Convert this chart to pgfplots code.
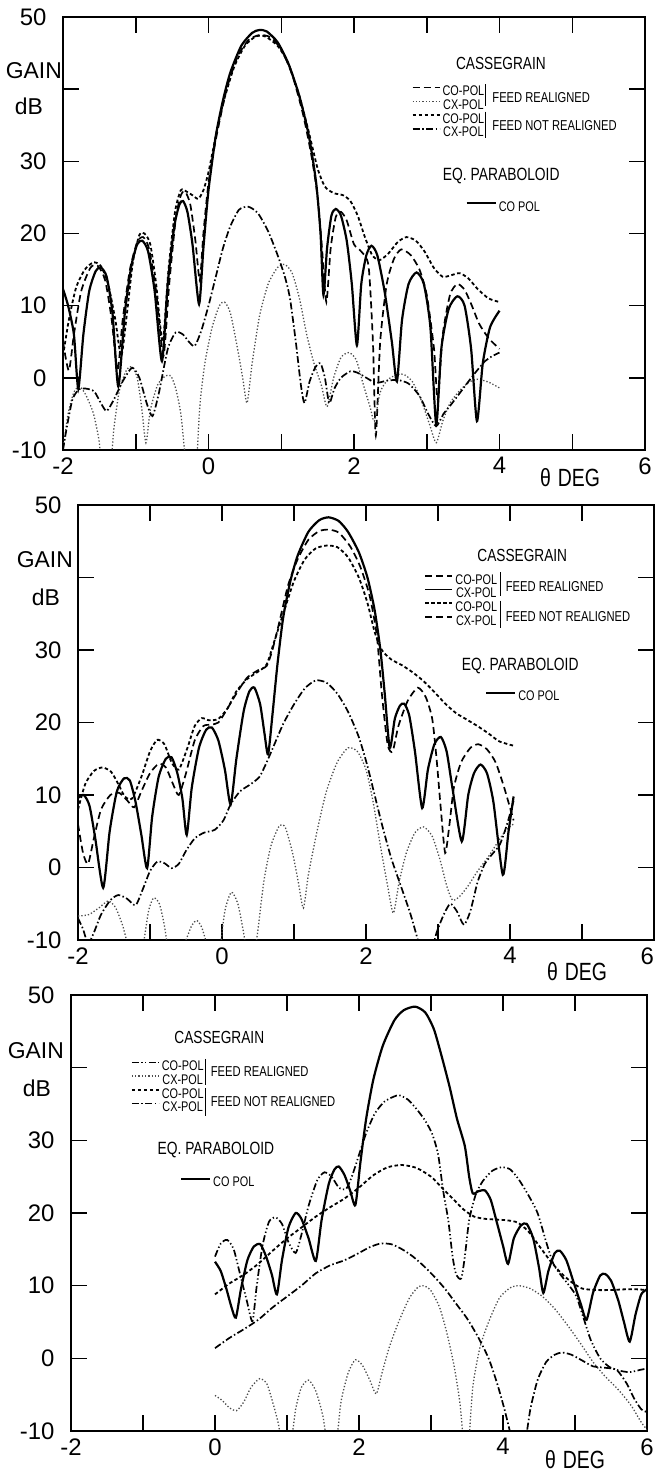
\documentclass[border=0pt]{standalone}
\usepackage{pgfplots}
\pgfplotsset{compat=1.18}
\usepackage{fontspec}
\setmainfont{Liberation Sans}
\newfontfamily\cond{Liberation Sans}[FakeStretch=0.78]
\newcommand\legfont{\cond\fontsize{14}{14}\selectfont}

\pgfplotsset{
  sA/.style={black, line width=2.2bp, solid, smooth, tension=0.4},
  sB/.style={black, line width=1.7bp, dash pattern=on 7bp off 4bp, smooth, tension=0.4},
  sBdd/.style={black, line width=1.7bp, dash pattern=on 7bp off 2.5bp on 1.3bp off 2.5bp on 1.3bp off 2.5bp, smooth, tension=0.4},
  sC/.style={black!70, line width=1.3bp, dash pattern=on 1.3bp off 2bp, smooth, tension=0.4},
  sD/.style={black, line width=1.8bp, dash pattern=on 3.5bp off 2.5bp, smooth, tension=0.4},
  sE/.style={black, line width=1.7bp, dash pattern=on 7bp off 2.5bp on 1.5bp off 2.5bp, smooth, tension=0.4},
  panel/.style={
    scale only axis, anchor=south west,
    xmin=-2, xmax=6, ymin=-10, ymax=50,
    xtick={-2,-1,0,1,2,3,4,5,6},
    ytick={-10,0,10,20,30,40,50}, yticklabels={-10,0,10,20,30,,50},
    tick align=inside, major tick length=16bp,
    axis line style={line width=1.5bp},
    every tick/.style={black, line width=1.5bp},
    ticklabel style={font=\fontsize{24}{24}\selectfont},
    yticklabel style={xshift=-13bp},
    xticklabel style={yshift=-4bp},
    clip mode=individual,
  },
  legax/.style={hide axis, scale only axis, anchor=south west, xmin=-2, xmax=6, ymin=-10, ymax=50,
    legend image code/.code={\draw[##1] (0bp,3.5bp) -- (#1,3.5bp);},
    legend style={draw=none, fill=none, inner sep=0pt, row sep=3bp, column sep=1.5bp,
      font=\legfont, nodes={font=\legfont, inner sep=0.6bp, text height=9.5bp, text depth=0bp},
      anchor=north west}},
}

\begin{document}
\begin{tikzpicture}
\path[use as bounding box] (0bp,0bp) rectangle (655bp,1473bp);

% ================= PANEL 1 =================
\begin{axis}[panel, at={(63bp,1023bp)}, width=582bp, height=433bp,
  xticklabels={-2,,0,,2,,4,,6}]
\addplot[sB] coordinates {(-2,5) (-1.92,1) (-1.85,6) (-1.75,12) (-1.62,15.3) (-1.52,15.5) (-1.42,13.5) (-1.33,8) (-1.25,1) (-1.18,8) (-1.08,15) (-0.98,18.8) (-0.9,19.5) (-0.82,18) (-0.72,12) (-0.62,3) (-0.54,13) (-0.45,22) (-0.38,25.3) (-0.32,25.8) (-0.25,24) (-0.18,19) (-0.12,13.5) (-0.07,20) (0,27) (0.1,33) (0.25,40) (0.4,44.5) (0.55,46.8) (0.7,47.5) (0.85,47.2) (1.0,45.5) (1.15,42) (1.3,36.5) (1.42,30.5) (1.5,25) (1.56,18) (1.62,10.5) (1.68,18) (1.75,22.3) (1.82,23) (1.9,21.8) (2.0,18.5) (2.1,17.5) (2.2,15.5) (2.26,5) (2.3,-8) (2.36,5) (2.45,13) (2.55,16.5) (2.65,17.8) (2.78,17) (2.9,15) (3.0,11.5) (3.1,4) (3.15,-3) (3.22,6) (3.32,11.5) (3.42,13) (3.52,12.2) (3.62,10) (3.72,7.5) (3.85,5.5) (4.0,4)};
\addplot[sC] coordinates {(-2,-10) (-1.93,-5) (-1.85,-2) (-1.77,-1.2) (-1.68,-2.5) (-1.58,-5) (-1.5,-9) (-1.46,-14) (-1.36,-14) (-1.3,-7) (-1.22,-1.5) (-1.12,1.2) (-1.05,1.5) (-0.98,0) (-0.92,-4) (-0.86,-9) (-0.8,-4.5) (-0.7,-1) (-0.6,0.2) (-0.52,0.3) (-0.45,-1.5) (-0.38,-5) (-0.32,-11) (-0.28,-14) (-0.18,-14) (-0.12,-4) (-0.05,2) (0.05,7) (0.15,10) (0.22,10.5) (0.3,9) (0.4,4) (0.47,0) (0.53,-3.5) (0.6,2) (0.7,8.5) (0.82,13) (0.95,15.3) (1.05,15.7) (1.15,14.5) (1.25,11) (1.35,6) (1.45,2) (1.55,-1) (1.63,-4) (1.72,0) (1.82,2.8) (1.93,3.5) (2.03,2.5) (2.13,-1) (2.22,-4) (2.28,-6) (2.36,-2) (2.46,-0.3) (2.58,0.4) (2.68,0.5) (2.8,-0.5) (2.92,-3) (3.04,-6.5) (3.13,-9) (3.22,-6) (3.32,-3.5) (3.45,-1.8) (3.58,-0.6) (3.7,-0.2) (3.85,-0.6) (4.0,-1.4)};
\addplot[sD] coordinates {(-2,3) (-1.92,8) (-1.82,12.5) (-1.7,15) (-1.58,16) (-1.48,15.5) (-1.38,13) (-1.28,8) (-1.2,3) (-1.12,9) (-1.04,16) (-0.95,19.8) (-0.88,20) (-0.8,18.5) (-0.72,13) (-0.63,5) (-0.55,15) (-0.46,23) (-0.38,26) (-0.3,25.8) (-0.22,25.3) (-0.14,24.8) (-0.07,26) (0,28.5) (0.1,33.5) (0.2,38) (0.35,43) (0.5,46) (0.65,47.3) (0.78,47.3) (0.95,46) (1.1,43.5) (1.25,39) (1.38,34) (1.5,29) (1.6,26.5) (1.72,25.6) (1.85,25.3) (1.95,24.5) (2.05,22.5) (2.15,19.5) (2.25,17) (2.35,16.3) (2.47,17.2) (2.6,18.8) (2.72,19.5) (2.85,19) (2.97,17.5) (3.1,15.2) (3.22,14) (3.33,14.2) (3.45,14.5) (3.57,13.8) (3.7,12.3) (3.85,11) (4.0,10.5)};
\addplot[sE] coordinates {(-2,-10) (-1.95,-7) (-1.87,-3) (-1.78,-1.6) (-1.68,-1.5) (-1.57,-1.9) (-1.48,-3.5) (-1.4,-4.6) (-1.3,-3) (-1.18,-0.5) (-1.05,1.4) (-0.95,0) (-0.85,-3.5) (-0.77,-5.3) (-0.68,-2) (-0.56,4) (-0.45,6.3) (-0.35,6) (-0.27,5) (-0.19,4.4) (-0.1,6.5) (0,10) (0.1,14) (0.2,18) (0.3,21) (0.42,23.3) (0.55,23.7) (0.68,22.8) (0.82,20.3) (0.95,17) (1.05,14) (1.12,11) (1.2,5) (1.27,-1) (1.32,-3.5) (1.39,-0.5) (1.47,1.5) (1.54,2) (1.6,0) (1.66,-3.5) (1.73,-1.5) (1.82,0) (1.95,0.9) (2.05,0.7) (2.17,0) (2.3,-0.7) (2.45,-0.4) (2.6,-0.3) (2.75,-0.8) (2.9,-2.5) (3.02,-5) (3.13,-6.7) (3.23,-5) (3.35,-3.5) (3.5,-1.5) (3.65,0.5) (3.8,2.3) (3.9,3) (4.0,3.5)};
\addplot[sA] coordinates {(-2,12.3) (-1.93,10) (-1.85,6) (-1.79,-1.5) (-1.72,6) (-1.64,12) (-1.55,14.8) (-1.48,15.3) (-1.40,14) (-1.32,9) (-1.24,-1.2) (-1.15,9) (-1.06,15.5) (-0.98,18.5) (-0.91,19) (-0.83,17.5) (-0.74,12) (-0.64,2.3) (-0.56,13) (-0.47,21) (-0.40,24) (-0.35,24.5) (-0.29,23) (-0.22,18.5) (-0.13,10.2) (-0.07,18) (0,26) (0.1,33.5) (0.2,38.5) (0.3,42.3) (0.45,46) (0.6,47.8) (0.7,48.2) (0.8,48) (0.95,46.5) (1.1,43.5) (1.25,39) (1.38,33.5) (1.48,27) (1.54,20) (1.58,11.5) (1.63,18) (1.69,22.5) (1.75,23.4) (1.82,22.5) (1.9,19) (1.97,13) (2.04,4.5) (2.1,13) (2.17,17) (2.24,18.3) (2.32,17) (2.42,12) (2.52,5) (2.59,-0.5) (2.66,8) (2.75,13) (2.86,14.6) (2.96,13) (3.05,7) (3.13,-6.5) (3.2,4) (3.3,9.5) (3.42,11.3) (3.52,10) (3.61,4) (3.69,-6) (3.77,2) (3.87,7) (4.0,9.3)};
\draw[line width=0.9bp] (axis cs:3.81,40.7) -- (axis cs:3.81,37.6);
\draw[line width=0.9bp] (axis cs:3.81,36.9) -- (axis cs:3.81,33.2);
\node[anchor=west, inner sep=0pt, font=\cond\fontsize{14.4}{14.4}\selectfont] at (axis cs:3.9,38.8) {FEED REALIGNED};
\node[anchor=west, inner sep=0pt, font=\cond\fontsize{14.4}{14.4}\selectfont] at (axis cs:3.9,34.9) {FEED NOT REALIGNED};
\node[inner sep=0pt, font=\cond\fontsize{17.6}{17.6}\selectfont] at (axis cs:4.02,43.5) {CASSEGRAIN};
\node[anchor=west, inner sep=0pt, font=\cond\fontsize{17.8}{17.8}\selectfont] at (axis cs:3.22,28) {EQ. PARABOLOID};
\node[anchor=east, inner sep=1bp, font=\fontsize{23}{23}\selectfont] at (axis cs:-2,42.6) {GAIN};
\node[anchor=east, inner sep=0pt, xshift=-20bp, font=\fontsize{23}{23}\selectfont] at (axis cs:-2,37.6) {dB};
\node[yshift=-28bp, inner sep=0pt, font=\cond\fontsize{25}{25}\selectfont] at (axis cs:4.97,-10) {θ\hspace{7bp}DEG};
\end{axis}
\begin{axis}[legax=27bp, at={(63bp,1023bp)}, width=582bp, height=433bp, legend style={at={(axis cs:2.79,40.5)}}]
\addlegendimage{sB}\addlegendentry{CO-POL}
\addlegendimage{sC}\addlegendentry{CX-POL}
\addlegendimage{sD}\addlegendentry{CO-POL}
\addlegendimage{sE}\addlegendentry{CX-POL}
\end{axis}
\begin{axis}[legax=29bp, at={(63bp,1023bp)}, width=582bp, height=433bp, legend style={at={(axis cs:3.53,24.5)}}]
\addlegendimage{sA}\addlegendentry{CO POL}
\end{axis}

% ================= PANEL 2 =================
\begin{axis}[panel, at={(78bp,533bp)}, width=576bp, height=435bp,
  xticklabels={-2,,0,,2,,4,,\makebox[0pt][r]{6}}]
\addplot[sB] coordinates {(-2,6) (-1.93,2) (-1.86,0.5) (-1.78,4) (-1.68,8) (-1.55,10) (-1.43,10.3) (-1.32,9.3) (-1.22,8.3) (-1.12,10.5) (-1.0,13) (-0.88,14.3) (-0.78,13.8) (-0.68,11.5) (-0.6,10) (-0.5,13) (-0.38,17.5) (-0.26,19.5) (-0.15,19.7) (-0.05,20) (0.05,21.5) (0.2,24) (0.35,26.2) (0.5,27.2) (0.62,27.8) (0.7,30) (0.8,34) (0.92,39) (1.05,42.5) (1.2,45.2) (1.35,46.4) (1.48,46.6) (1.62,46.2) (1.78,44.3) (1.92,41.5) (2.05,37.5) (2.15,32) (2.22,24) (2.3,17) (2.37,16) (2.45,19.5) (2.58,23) (2.72,24.8) (2.83,23.5) (2.92,20.5) (2.98,15) (3.04,8) (3.1,2) (3.16,6) (3.22,11) (3.32,14.5) (3.45,16.5) (3.56,17) (3.68,16.3) (3.8,14.5) (3.92,11) (4.05,6.5)};
\addplot[sC] coordinates {(-2,-6.7) (-1.85,-6.5) (-1.7,-5.5) (-1.58,-4.6) (-1.48,-5.5) (-1.38,-8) (-1.3,-11) (-1.2,-14) (-1.1,-11) (-1.02,-6) (-0.95,-4.2) (-0.87,-5) (-0.8,-8) (-0.72,-13) (-0.62,-13) (-0.5,-10) (-0.42,-8) (-0.35,-7.3) (-0.28,-8.3) (-0.2,-11) (-0.12,-14) (-0.04,-12) (0.04,-6) (0.13,-3.4) (0.22,-5) (0.3,-9) (0.38,-14) (0.48,-10) (0.58,-2) (0.68,3) (0.8,5.8) (0.88,5.5) (0.98,2) (1.06,-2) (1.13,-5.6) (1.2,-1) (1.32,5) (1.45,10.5) (1.6,14.5) (1.75,16.5) (1.88,16) (2.0,13.5) (2.1,9) (2.2,3) (2.3,-2.5) (2.38,-6.3) (2.46,-2) (2.56,2) (2.68,4.8) (2.8,5.6) (2.92,4.3) (3.03,1) (3.12,-2.5) (3.2,-4.5) (3.3,-4) (3.42,-2.5) (3.55,-0.5) (3.7,1.5) (3.85,3.8) (3.95,5.2) (4.05,6)};
\addplot[sD] coordinates {(-2,8) (-1.9,11.5) (-1.78,13.3) (-1.66,13.8) (-1.54,13.2) (-1.44,11.5) (-1.35,9.8) (-1.25,9.5) (-1.12,12.5) (-1.0,16) (-0.9,17.6) (-0.8,17) (-0.7,14.5) (-0.6,13.5) (-0.48,16.5) (-0.38,19.5) (-0.28,20.6) (-0.18,20.3) (-0.05,20.5) (0.08,22) (0.2,24.3) (0.35,26) (0.5,27) (0.62,28) (0.72,31) (0.85,35) (1.0,39.5) (1.15,42.5) (1.3,44) (1.45,44.4) (1.6,44.2) (1.75,42.8) (1.9,40) (2.02,36.5) (2.12,32.5) (2.22,30) (2.35,28.7) (2.5,27.9) (2.65,26.9) (2.8,25.7) (2.95,24.2) (3.1,22.6) (3.25,21.3) (3.4,20.4) (3.55,19.5) (3.7,18.5) (3.85,17.4) (4.05,16.8)};
\addplot[sE] coordinates {(-2,-7) (-1.93,-8.5) (-1.86,-10.5) (-1.78,-9) (-1.68,-6.5) (-1.55,-4.5) (-1.44,-3.8) (-1.32,-4.3) (-1.2,-5.2) (-1.1,-3) (-1.0,-0.5) (-0.9,0.8) (-0.8,0.6) (-0.7,-0.1) (-0.6,0.5) (-0.5,2.3) (-0.38,4) (-0.25,4.8) (-0.1,5.2) (0.02,6.5) (0.12,8.7) (0.25,10.5) (0.4,11.5) (0.52,12.5) (0.62,14.5) (0.72,16.8) (0.85,19.8) (1.0,22.5) (1.15,24.7) (1.3,25.8) (1.45,25.5) (1.6,24) (1.75,21.5) (1.9,18) (2.02,14) (2.12,10) (2.22,6) (2.35,1.3) (2.5,-3) (2.62,-6.5) (2.72,-10) (2.8,-13) (2.9,-12) (2.98,-9) (3.08,-6.5) (3.17,-5) (3.26,-6) (3.36,-7.9) (3.45,-6) (3.55,-2) (3.65,0.5) (3.75,1.8) (3.86,3.2) (3.96,6) (4.05,9.2)};
\addplot[sA] coordinates {(-2,9.6) (-1.92,10) (-1.84,8.5) (-1.76,4) (-1.65,-2.8) (-1.56,5) (-1.46,10.5) (-1.36,12.3) (-1.28,12) (-1.2,9) (-1.12,4.5) (-1.04,-0.1) (-0.97,7) (-0.88,12.5) (-0.78,15) (-0.7,15.2) (-0.62,13) (-0.55,9.5) (-0.49,4.5) (-0.42,11) (-0.32,16.5) (-0.22,19) (-0.14,19.3) (-0.05,17.5) (0.04,13.5) (0.12,8.7) (0.2,15) (0.3,21.5) (0.38,24.3) (0.45,24.8) (0.53,22.5) (0.59,18.5) (0.64,15.6) (0.7,21) (0.77,28) (0.85,34.5) (0.95,39.5) (1.05,43) (1.2,46.3) (1.35,47.9) (1.48,48.3) (1.62,47.8) (1.75,46.3) (1.9,43.5) (2.02,40) (2.12,35.5) (2.2,30) (2.26,24) (2.33,16.5) (2.4,20.5) (2.47,22.3) (2.53,22.6) (2.6,21) (2.68,16) (2.78,8.2) (2.86,13.5) (2.95,17) (3.04,18) (3.12,16) (3.2,11) (3.33,3.6) (3.42,10) (3.5,13) (3.59,14.2) (3.68,13) (3.77,9) (3.9,-1) (3.98,5) (4.05,9.8)};
\draw[line width=0.9bp] (axis cs:3.87,40.7) -- (axis cs:3.87,37.4);
\draw[line width=0.9bp] (axis cs:3.87,36.8) -- (axis cs:3.87,33.0);
\node[anchor=west, inner sep=0pt, font=\cond\fontsize{14.4}{14.4}\selectfont] at (axis cs:3.94,38.7) {FEED REALIGNED};
\node[anchor=west, inner sep=0pt, font=\cond\fontsize{14.4}{14.4}\selectfont] at (axis cs:3.94,34.6) {FEED NOT REALIGNED};
\node[inner sep=0pt, font=\cond\fontsize{17.6}{17.6}\selectfont] at (axis cs:4.17,43.1) {CASSEGRAIN};
\node[anchor=west, inner sep=0pt, font=\cond\fontsize{17.8}{17.8}\selectfont] at (axis cs:3.33,27.8) {EQ. PARABOLOID};
\node[anchor=east, inner sep=0pt, xshift=-5bp, font=\fontsize{23}{23}\selectfont] at (axis cs:-2,42.4) {GAIN};
\node[anchor=east, inner sep=0pt, xshift=-18bp, font=\fontsize{23}{23}\selectfont] at (axis cs:-2,37.3) {dB};
\node[yshift=-32bp, inner sep=0pt, font=\cond\fontsize{25}{25}\selectfont] at (axis cs:4.93,-10) {θ\hspace{7bp}DEG};
\end{axis}
\begin{axis}[legax=27bp, at={(78bp,533bp)}, width=576bp, height=435bp, legend style={at={(axis cs:2.81,40.5)}}]
\addlegendimage{sB}\addlegendentry{CO-POL}
\addlegendimage{draw=none}\addlegendentry{CX-POL}
\addlegendimage{sD}\addlegendentry{CO-POL}
\addlegendimage{sB}\addlegendentry{CX-POL}
\end{axis}
\begin{axis}[legax=29bp, at={(78bp,533bp)}, width=576bp, height=435bp, legend style={at={(axis cs:3.65,24.4)}}]
\addlegendimage{sA}\addlegendentry{CO POL}
\end{axis}

% ================= PANEL 3 =================
\begin{axis}[panel, at={(71bp,42bp)}, width=576bp, height=436bp,
  xticklabels={-2,,0,,2,,4,,6}]
\addplot[sBdd] coordinates {(0,14) (0.08,15.8) (0.17,16.3) (0.26,15) (0.35,11.5) (0.44,8) (0.52,5.1) (0.58,10) (0.66,15.5) (0.75,18.8) (0.84,19.4) (0.93,18.5) (1.02,16) (1.12,14.5) (1.2,17) (1.3,21) (1.42,24.5) (1.52,25.6) (1.62,25) (1.72,23.5) (1.82,23.3) (1.9,25) (2.0,28) (2.1,31) (2.22,33.7) (2.35,35.3) (2.48,36) (2.56,36.2) (2.68,35.6) (2.8,34.3) (2.92,32.7) (3.02,30.8) (3.1,28) (3.17,23) (3.24,19) (3.3,14) (3.35,11.5) (3.42,11) (3.47,14) (3.53,19) (3.62,22.5) (3.72,24.4) (3.85,25.8) (3.98,26.3) (4.1,26) (4.22,24.6) (4.35,22.5) (4.48,20) (4.6,16) (4.7,13) (4.8,11.5) (4.92,10) (5.02,8.5) (5.12,5.5) (5.22,2.5) (5.35,0) (5.48,-1.2) (5.62,-1.7) (5.76,-1.9) (5.9,-1.6) (6.0,-1.4)};
\addplot[sC] coordinates {(0,-5.1) (0.1,-5.8) (0.2,-6.8) (0.3,-7.2) (0.4,-6) (0.5,-4) (0.62,-2.8) (0.72,-3.5) (0.8,-6) (0.88,-9) (0.95,-13) (1.05,-12) (1.12,-7) (1.2,-4) (1.3,-3) (1.4,-4.5) (1.5,-8) (1.58,-13) (1.68,-12) (1.75,-6) (1.85,-2) (1.95,-0.2) (2.05,-1) (2.15,-3) (2.24,-4.9) (2.32,-2) (2.42,1.5) (2.55,5) (2.7,8.3) (2.82,9.8) (2.9,10) (3.0,9.3) (3.12,7) (3.22,3.5) (3.32,-1) (3.4,-6) (3.46,-12) (3.52,-12) (3.58,-4) (3.68,1.5) (3.8,5) (3.95,8.3) (4.1,9.7) (4.22,10) (4.38,9.6) (4.55,8.5) (4.72,6.8) (4.9,4.5) (5.08,2) (5.25,-0.5) (5.42,-2.5) (5.6,-4.3) (5.78,-6.5) (5.92,-8.8) (6.0,-9.8)};
\addplot[sD] coordinates {(0,8.8) (0.2,10.3) (0.4,11.5) (0.6,13) (0.8,14.8) (1.0,16.5) (1.2,18) (1.4,19.5) (1.6,20.8) (1.8,22) (2.0,23.5) (2.2,25.2) (2.4,26.3) (2.6,26.6) (2.8,26.2) (3.0,25) (3.15,23.5) (3.3,22) (3.45,20.5) (3.6,19.5) (3.75,19.2) (3.9,19.1) (4.05,19) (4.2,18.7) (4.35,17.5) (4.5,15.5) (4.65,13.5) (4.8,11.8) (4.95,10.5) (5.1,9.6) (5.3,9.4) (5.5,9.4) (5.7,9.5) (5.85,9.5) (6.0,9.4)};
\addplot[sE] coordinates {(0,1.4) (0.2,2.8) (0.4,4) (0.6,5.3) (0.8,7) (1.0,8.5) (1.2,10) (1.4,11.7) (1.6,12.8) (1.8,13.5) (2.0,14.5) (2.15,15.3) (2.3,15.8) (2.45,15.7) (2.6,15) (2.75,14) (2.9,12.7) (3.05,11.2) (3.2,9.5) (3.35,7.5) (3.5,5.5) (3.65,3) (3.8,0) (3.92,-3.5) (4.02,-7) (4.12,-11) (4.2,-14) (4.3,-12) (4.38,-7) (4.48,-3) (4.6,-0.5) (4.72,0.5) (4.82,0.8) (4.95,0.5) (5.1,-0.3) (5.25,-1.1) (5.42,-1.3) (5.58,-1.6) (5.72,-3.5) (5.82,-5.5) (5.92,-7) (6.0,-7.4)};
\addplot[sA] coordinates {(0,13.3) (0.08,12) (0.16,9.5) (0.23,7) (0.29,5.6) (0.36,9.5) (0.45,13.5) (0.54,15.4) (0.63,15.7) (0.71,14) (0.79,11.5) (0.86,8.8) (0.93,13.5) (1.02,18) (1.12,20) (1.2,19.2) (1.3,16.5) (1.4,13.4) (1.48,19) (1.58,24) (1.66,26) (1.72,26.4) (1.8,25.2) (1.88,23) (1.95,21.1) (2.02,27) (2.1,33) (2.2,38.4) (2.33,43) (2.49,46.5) (2.62,47.9) (2.78,48.4) (2.92,47.6) (3.04,45.3) (3.15,41.5) (3.26,37.3) (3.36,33) (3.47,29.2) (3.53,25) (3.58,22.7) (3.66,23) (3.75,23.1) (3.83,21.8) (3.92,18.5) (4.0,15.5) (4.07,13) (4.15,16.5) (4.25,18.3) (4.33,18.5) (4.42,16.5) (4.5,12.5) (4.56,9) (4.63,12) (4.72,14.5) (4.79,14.8) (4.88,13.5) (4.98,10.5) (5.08,7.5) (5.16,5.3) (5.25,9) (5.35,11.4) (5.42,11.6) (5.5,10.7) (5.6,8) (5.68,5) (5.76,2.3) (5.84,6) (5.92,8.8) (6.0,9.5)};
\draw[line width=0.9bp] (axis cs:-0.13,41.2) -- (axis cs:-0.13,37.6);
\draw[line width=0.9bp] (axis cs:-0.13,37.2) -- (axis cs:-0.13,33.4);
\node[anchor=west, inner sep=0pt, font=\cond\fontsize{14.4}{14.4}\selectfont] at (axis cs:-0.06,39.4) {FEED REALIGNED};
\node[anchor=west, inner sep=0pt, font=\cond\fontsize{14.4}{14.4}\selectfont] at (axis cs:-0.06,35.4) {FEED NOT REALIGNED};
\node[inner sep=0pt, font=\cond\fontsize{17.6}{17.6}\selectfont] at (axis cs:0.06,44.1) {CASSEGRAIN};
\node[anchor=west, inner sep=0pt, font=\cond\fontsize{17.8}{17.8}\selectfont] at (axis cs:-0.8,28.7) {EQ. PARABOLOID};
\node[anchor=east, inner sep=0pt, xshift=-7bp, font=\fontsize{23}{23}\selectfont] at (axis cs:-2,42.3) {GAIN};
\node[anchor=east, inner sep=0pt, xshift=-20bp, font=\fontsize{23}{23}\selectfont] at (axis cs:-2,37.1) {dB};
\node[yshift=-29bp, inner sep=0pt, font=\cond\fontsize{25}{25}\selectfont] at (axis cs:5.0,-10) {θ\hspace{7bp}DEG};
\end{axis}
\begin{axis}[legax=27bp, at={(71bp,42bp)}, width=576bp, height=436bp, legend style={at={(axis cs:-1.17,41.0)}}]
\addlegendimage{sBdd}\addlegendentry{CO-POL}
\addlegendimage{sC}\addlegendentry{CX-POL}
\addlegendimage{sD}\addlegendentry{CO-POL}
\addlegendimage{sE}\addlegendentry{CX-POL}
\end{axis}
\begin{axis}[legax=29bp, at={(71bp,42bp)}, width=576bp, height=436bp, legend style={at={(axis cs:-0.49,25.0)}}]
\addlegendimage{sA}\addlegendentry{CO POL}
\end{axis}
\end{tikzpicture}
\end{document}
